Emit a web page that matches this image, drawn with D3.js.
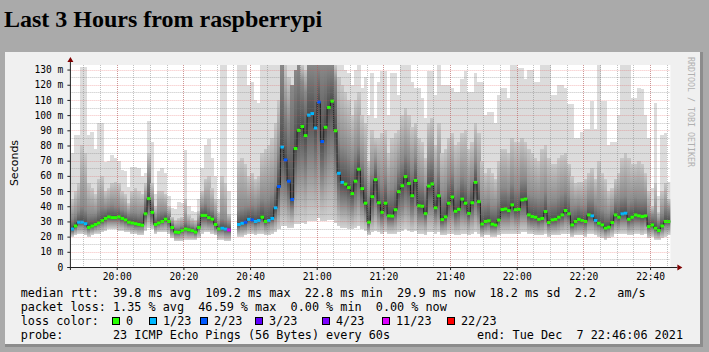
<!DOCTYPE html>
<html>
<head>
<meta charset="utf-8">
<script src="https://cdn.jsdelivr.net/npm/d3@7"></script>
<style>
  body { margin: 0; background: #aaaaaa; }
  text { white-space: pre; }
</style>
</head>
<body>
<div id="chart"></div>
<script>
// ---- data (ms per 60s step) ----
var median = [25,27,29.5,29.5,28.5,26,27,28,29,30.5, 32,33,32.5,32.5,33,32,31,29.5,29,28.5,
  28,27.5,35,45,36,28,29,30,31.5,30, 26,23,22.8,24,25,24.5,24,23,26,34,
  34,32.5,31.5,28,25,25.5,25,24.4,null,null, 28,28.8,29.5,31.4,31,30,30.6,32.8,30,30.6,
  32,39,53,79,70.5,56.5,44.5,78,90,92.5, 86.5,100,101,91.5,108.6,82.6,92,105,109.2,89.7,
  61.7,55.7,54.6,52.3,48.3,56.5,64.4,51.6,42,29.5, 46.3,57.5,42.3,36,42,33.7,33.5,37.7,49.6,53.5,
  59.5,55,46.9,57,40.3,40,35.1,53.3,54.7,39, 46.9,31.2,33,42,46.1,36.7,38,44.7,42,35.2,
  42.3,55.7,43,28.3,30,30.4,28.2,27.6,30.9,37.8, 38.2,37.1,40.9,37.7,38,44.2,44.7,34.3,33.2,32.8,
  31.4,32,36.5,29.3,31,31.4,32.8,34.3,37.2,35, 27.7,30,31.4,30.6,30,34.3,33.7,30.6,28.8,27.7,
  25.5,26.2,29.3,34.3,32.8,35,35.4,31.4,32.8,34.3, 33.7,33.2,33.7,26.6,27.7,25.5,24,27,30,29.9];

// index into lossColors for each step
var lossIdx = [1,0,1,1,1,0,0,0,0,0, 0,0,0,0,0,0,0,0,0,0, 0,0,0,0,0,0,0,0,0,0, 0,0,0,0,0,0,0,0,0,0,
  0,0,0,0,0,1,1,5,null,null, 1,1,2,1,2,1,1,0,0,1, 1,1,2,1,2,2,2,0,0,0, 0,1,1,1,2,2,0,0,0,0,
  1,1,0,0,0,0,0,0,0,0, 0,0,0,0,0,0,0,0,0,0, 0,0,0,0,0,0,0,0,0,0, 0,0,0,0,0,0,0,0,0,0,
  0,0,0,0,0,0,0,0,0,0, 0,0,0,0,0,0,0,0,0,0, 0,0,0,0,0,0,0,0,0,0, 0,0,0,0,0,0,1,1,0,0,
  0,0,0,0,0,1,1,0,0,0, 0,0,0,0,0,0,0,0,0,0];

// smoke: spread of the 23 pings per step
var pingMax = [75,87,87,132,132,87,89,78,95,95, 69,70,74,72,70,64,63,53,66,66,
  65,60,62,96,82,48,63,65,62,47, 39,38,43,42,77,40,37,36,45,65,
  80,84,72,60,45,133,133,50,null,null, 133,133,133,120,122,110,108,133,133,133,
  133,133,133,133,133,133,133,133,133,133, 133,133,133,133,133,133,133,133,133,133,
  133,133,130,128,120,130,133,118,125,100, 128,98,122,129,129,100,128,128,113,133,
  133,133,122,118,118,111,98,129,129,113, 133,120,120,120,118,115,115,124,129,115,
  115,128,122,122,100,102,102,95,113,118, 118,111,133,133,131,131,124,130,130,122,
  122,133,133,133,113,113,120,120,118,107, 107,85,85,89,91,91,109,91,133,109,
  109,80,82,82,100,133,133,133,111,111, 118,117,100,85,52,108,47,87,88,56];

var pingHi = [45,50,55,80,75,55,52,48,58,60, 50,52,55,56,55,50,48,42,50,52,
  50,48,55,75,55,40,50,50,48,40, 33,31,32,33,45,34,32,31,37,50,
  58,60,52,45,36,60,55,35,null,null, 70,72,68,60,62,58,60,75,78,80,
  85,95,110,133,133,125,120,130,133,133, 130,133,133,133,133,133,133,133,133,133,
  125,120,115,110,100,110,115,100,95,70, 90,85,85,88,90,75,85,88,90,100,
  105,100,92,95,85,82,72,95,98,80, 95,75,78,85,88,80,82,88,90,78,
  82,95,88,70,62,65,62,58,70,78, 78,75,85,82,82,85,82,78,75,72,
  70,78,80,72,68,68,72,74,75,68, 60,55,56,56,58,62,65,58,70,62,
  58,50,52,58,62,72,75,72,68,68, 70,68,62,50,40,55,36,50,55,45];

var pingCore = [32,34,37,40,38,35,35,35,38,40, 39,40,41,40,40,38,37,35,36,36,
  35,36,45,60,44,33,36,37,37,34, 29,26,26,27,30,28,27,26,30,40,
  42,40,38,34,29,32,31,29,null,null, 38,39,40,40,41,40,42,45,44,45,
  48,55,75,133,105,95,133,133,133,122, 115,133,133,133,133,133,133,133,133,122,
  85,80,78,74,70,76,80,70,62,48, 62,70,60,55,60,50,52,56,65,70,
  75,72,65,72,58,56,50,70,72,56, 64,48,50,58,62,52,54,60,58,52,
  58,70,58,42,42,43,40,40,44,52, 52,50,56,52,52,58,58,48,47,46,
  45,46,50,43,44,44,46,48,50,47, 40,40,41,40,40,45,45,41,40,38,
  36,35,38,44,44,46,47,43,44,46, 45,45,45,36,34,35,30,35,40,38];

var pingLow = [23,25,27,27,26,24,25,26,27,28, 29,30,30,30,30,29,28,27,27,26,
  26,26,30,35,30,26,27,28,29,27, 23,21,21,22,23,22,22,21,24,29,
  29,28,28,25,23,23,22,22,null,null, 25,26,26,28,28,27,28,29,27,28,
  29,32,38,50,48,42,38,55,62,65, 60,70,70,65,75,58,65,72,75,62,
  45,42,42,40,38,42,46,40,35,26, 34,40,33,30,33,29,29,31,36,38,
  42,40,35,40,32,32,30,38,38,32, 35,27,28,32,34,30,31,34,33,30,
  33,38,33,25,26,27,25,25,27,31, 31,31,33,31,31,34,34,29,28,28,
  27,28,30,26,27,27,28,29,31,30, 25,26,27,27,26,29,29,27,26,25,
  23,24,26,29,28,30,30,27,28,29, 29,28,29,24,25,23,22,24,27,27];

var pingMin = [20,21,22,22,21,20,21,22,22,23, 24,25,25,25,24,24,23,23,22,22,
  21,21,24,26,25,22,23,23,23,22, 19,17,17,17,18,18,18,18,19,22,
  23,23,22,21,18,18,17,17,null,null, 20,20,21,22,22,21,22,22,21,21,
  22,23,25,27,27,26,26,28,28,29, 28,30,30,30,32,30,30,31,31,29,
  27,26,26,25,25,26,27,25,24,21, 23,24,23,22,23,22,22,22,23,24,
  25,24,23,24,22,22,21,23,23,22, 23,21,21,22,22,21,21,22,22,21,
  22,23,22,20,21,21,20,20,21,22, 22,22,22,22,22,23,23,22,22,21,
  21,21,22,20,21,21,21,22,22,22, 20,21,21,21,20,22,22,21,20,19,
  18,19,20,22,22,22,22,21,21,22, 22,21,22,19,20,18,18,19,20,21];

var lossLabels = ["0", "1/23", "2/23", "3/23", "4/23", "11/23", "22/23"];
var lossColors = ["#26ff00", "#00b8ff", "#0059ff", "#5e00ff", "#7e00ff", "#dd00ff", "#ff0000"];
var yTicks = [0, 10, 20, 30, 40, 50, 60, 70, 80, 90, 100, 110, 120, 130];

var legendLine1 = "median rtt:  39.8 ms avg  109.2 ms max  22.8 ms min  29.9 ms now  18.2 ms sd  2.2   am/s";
var legendLine2 = "packet loss: 1.35 % avg  46.59 % max  0.00 % min  0.00 % now";
var probeText = "probe:       23 ICMP Echo Pings (56 Bytes) every 60s";
var endText = "end: Tue Dec  7 22:46:06 2021";

var startTime = new Date(2021, 11, 7, 19, 46, 6);
var endTime = new Date(2021, 11, 7, 22, 46, 6);

// ---- layout ----
var plot = {left: 70.4, right: 670.4, top: 65, bottom: 267};
var mono = "'DejaVu Sans Mono', monospace";

var x = d3.scaleTime().domain([startTime, endTime]).range([plot.left, plot.right]);
var y = d3.scaleLinear().domain([0, 133]).range([plot.bottom, plot.top]);

function stepTime(i) { return new Date(startTime.getTime() + i * 60000); }

var steps = median.map(function(m, i) {
  return {i: i, t0: stepTime(i), t1: stepTime(i + 1), m: m, loss: lossIdx[i],
    max: pingMax[i], hi: pingHi[i], core: pingCore[i], low: pingLow[i], min: pingMin[i]};
});
var live = steps.filter(function(d) { return d.m != null; });

var svg = d3.select("#chart").append("svg")
    .attr("width", 709)
    .attr("height", 352);
var defs = svg.append("defs");

// page title
svg.append("text")
    .attr("x", 4)
    .attr("y", 27)
    .style("font-family", "'Liberation Serif', 'Times New Roman', serif")
    .style("font-weight", "bold")
    .style("font-size", "24px")
    .attr("fill", "#000")
    .text("Last 3 Hours from raspberrypi");

// graph image with its shade border
svg.append("rect").attr("x", 5).attr("y", 52).attr("width", 698).attr("height", 295).attr("fill", "#8c8c8c");
svg.append("rect").attr("x", 5).attr("y", 52).attr("width", 695).attr("height", 292).attr("fill", "#f0f0f0");
svg.append("rect").attr("x", plot.left).attr("y", plot.top)
    .attr("width", plot.right - plot.left).attr("height", plot.bottom - plot.top).attr("fill", "#ffffff");

defs.append("clipPath").attr("id", "plotclip")
  .append("rect").attr("x", plot.left).attr("y", plot.top)
    .attr("width", plot.right - plot.left).attr("height", plot.bottom - plot.top);

var g = svg.append("g").attr("clip-path", "url(#plotclip)");

// outer smoke: whole spread of the pings, flat light grey
g.append("g").selectAll("rect")
  .data(live)
  .enter().append("rect")
    .attr("x", function(d) { return x(d.t0); })
    .attr("width", function(d) { return x(d.t1) - x(d.t0) + 0.2; })
    .attr("y", function(d) { return y(d.max); })
    .attr("height", function(d) { return y(d.min) - y(d.max); })
    .attr("fill", "#dcdcdc")
    .attr("shape-rendering", "crispEdges");

// inner smoke: shaded from light at the edges to dark at the median
live.forEach(function(d) {
  var top = y(d.hi), bot = y(d.min), span = bot - top;
  var gr = defs.append("linearGradient").attr("id", "smoke" + d.i)
      .attr("gradientUnits", "userSpaceOnUse")
      .attr("x1", 0).attr("x2", 0).attr("y1", top).attr("y2", bot);
  [[d.hi, "#c8c8c8"], [d.core, "#8a8a8a"], [d.m, "#4e4e4e"], [d.low, "#888888"], [d.min, "#d2d2d2"]]
    .forEach(function(s) {
      gr.append("stop").attr("offset", Math.max(0, Math.min(1, (y(s[0]) - top) / span)))
        .attr("stop-color", s[1]);
    });
});
g.append("g").selectAll("rect")
  .data(live)
  .enter().append("rect")
    .attr("x", function(d) { return x(d.t0); })
    .attr("width", function(d) { return x(d.t1) - x(d.t0) + 0.2; })
    .attr("y", function(d) { return y(d.hi); })
    .attr("height", function(d) { return y(d.min) - y(d.hi); })
    .attr("fill", function(d) { return "url(#smoke" + d.i + ")"; })
    .attr("shape-rendering", "crispEdges");

// grid
var gridG = svg.append("g");
var minorY = d3.range(5, 131, 10);
var majorY = d3.range(10, 131, 10);
var minorX = d3.timeMinute.every(5).range(startTime, endTime);
var majorX = d3.timeMinute.every(20).range(startTime, endTime);
var minorCol = "rgba(120,120,120,0.45)", majorCol = "rgba(225,70,70,0.35)";

gridG.selectAll(".gmy").data(minorY).enter().append("line")
    .attr("x1", plot.left).attr("x2", plot.right)
    .attr("y1", function(d) { return Math.round(y(d)) + 0.5; })
    .attr("y2", function(d) { return Math.round(y(d)) + 0.5; })
    .attr("stroke", minorCol).attr("stroke-dasharray", "1,1");
gridG.selectAll(".gMy").data(majorY).enter().append("line")
    .attr("x1", plot.left).attr("x2", plot.right)
    .attr("y1", function(d) { return Math.round(y(d)) + 0.5; })
    .attr("y2", function(d) { return Math.round(y(d)) + 0.5; })
    .attr("stroke", majorCol).attr("stroke-dasharray", "1,1");
gridG.selectAll(".gmx").data(minorX).enter().append("line")
    .attr("x1", function(d) { return Math.round(x(d)) + 0.5; })
    .attr("x2", function(d) { return Math.round(x(d)) + 0.5; })
    .attr("y1", plot.top).attr("y2", plot.bottom)
    .attr("stroke", minorCol).attr("stroke-dasharray", "1,1");
gridG.selectAll(".gMx").data(majorX).enter().append("line")
    .attr("x1", function(d) { return Math.round(x(d)) + 0.5; })
    .attr("x2", function(d) { return Math.round(x(d)) + 0.5; })
    .attr("y1", plot.top).attr("y2", plot.bottom)
    .attr("stroke", majorCol).attr("stroke-dasharray", "1,1");

// median step line
var pts = [];
steps.forEach(function(d) {
  if (d.m == null) { pts.push(null); return; }
  pts.push([x(d.t0), y(d.m)]);
  pts.push([x(d.t1), y(d.m)]);
});
var medLine = d3.line().defined(function(p) { return p != null; });
g.append("path")
    .attr("d", medLine(pts))
    .attr("fill", "none")
    .attr("stroke", "#202020")
    .attr("stroke-width", 1);

// loss-coloured median marks
g.append("g").selectAll("rect")
  .data(live)
  .enter().append("rect")
    .attr("x", function(d) { return x(d.t0); })
    .attr("width", function(d) { return x(d.t1) - x(d.t0) + 0.3; })
    .attr("y", function(d) { return y(d.m) - 1.5; })
    .attr("height", 3)
    .attr("fill", function(d) { return lossColors[d.loss]; });

// axes
var yAxis = svg.append("g")
    .attr("transform", "translate(" + plot.left + ",0)")
    .call(d3.axisLeft(y).tickValues(yTicks).tickSize(3).tickPadding(4)
      .tickFormat(function(d) { return d === 0 ? "0" : d + " m"; }));
var xAxis = svg.append("g")
    .attr("transform", "translate(0," + plot.bottom + ")")
    .call(d3.axisBottom(x).ticks(d3.timeMinute.every(20)).tickSize(3).tickPadding(3)
      .tickFormat(d3.timeFormat("%H:%M")));
[yAxis, xAxis].forEach(function(ax) {
  ax.select(".domain").remove();
  ax.selectAll("line").attr("stroke", "#222");
  ax.selectAll("text").style("font-family", mono).style("font-size", "9.6px").attr("fill", "#000");
});

svg.append("line").attr("x1", plot.left).attr("x2", plot.left)
    .attr("y1", plot.bottom + 3).attr("y2", plot.top - 3).attr("stroke", "#222");
svg.append("line").attr("x1", plot.left - 3).attr("x2", plot.right + 7)
    .attr("y1", plot.bottom + 0.5).attr("y2", plot.bottom + 0.5).attr("stroke", "#222");
svg.append("path")
    .attr("d", "M" + (plot.left - 3) + "," + (plot.top - 3) + "L" + plot.left + "," + (plot.top - 8) + "L" + (plot.left + 3) + "," + (plot.top - 3) + "Z")
    .attr("fill", "#7f0000");
svg.append("path")
    .attr("d", "M" + (plot.right + 7) + "," + (plot.bottom - 2.5) + "L" + (plot.right + 12) + "," + (plot.bottom + 0.5) + "L" + (plot.right + 7) + "," + (plot.bottom + 3.5) + "Z")
    .attr("fill", "#7f0000");

// y title
svg.append("text")
    .attr("transform", "translate(18,163) rotate(-90)")
    .attr("text-anchor", "middle")
    .style("font-family", "'DejaVu Sans', sans-serif")
    .style("font-size", "11px")
    .text("Seconds");

// watermark
svg.append("text")
    .attr("transform", "translate(688,57) rotate(90)")
    .style("font-family", mono)
    .style("font-size", "8.3px")
    .attr("fill", "#b0b0b0")
    .text("RRDTOOL / TOBI OETIKER");

// legend
var legend = svg.append("g").style("font-family", mono).style("font-size", "11.8px").attr("fill", "#000");
legend.append("text").attr("x", 20.7).attr("y", 297).text(legendLine1);
legend.append("text").attr("x", 20.7).attr("y", 311).text(legendLine2);
legend.append("text").attr("x", 20.7).attr("y", 324.5).text("loss color:");
var boxX = [112, 149, 200, 255, 322, 382, 447];
lossLabels.forEach(function(lbl, k) {
  legend.append("rect").attr("x", boxX[k] + 0.5).attr("y", 317.5).attr("width", 7).attr("height", 7)
      .attr("fill", lossColors[k]).attr("stroke", "#000");
  legend.append("text").attr("x", boxX[k] + 14).attr("y", 324.5).text(lbl);
});
legend.append("text").attr("x", 20.7).attr("y", 338.5).text(probeText);
legend.append("text").attr("x", 683).attr("y", 338.5).attr("text-anchor", "end").text(endText);
</script>
</body>
</html>
